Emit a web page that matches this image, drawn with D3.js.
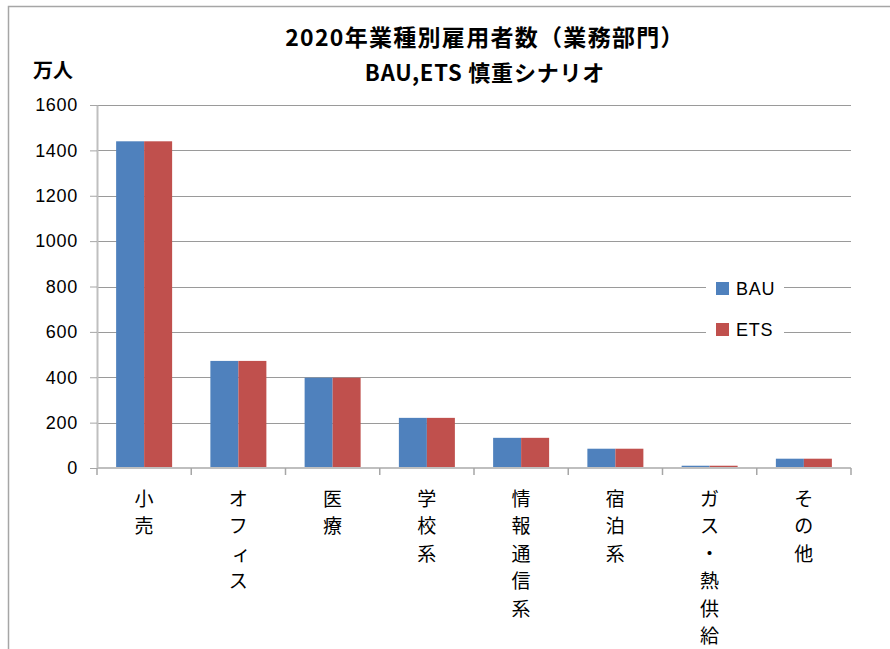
<!DOCTYPE html>
<html>
<head>
<meta charset="utf-8">
<script src="https://cdn.jsdelivr.net/npm/d3@7"></script>
<style>
  html, body { margin: 0; padding: 0; background: #fff; }
  svg { display: block; }
</style>
</head>
<body>
<div id="chart"></div>
<script>
// 2020年 業種別雇用者数（業務部門）— BAU / ETS 慎重シナリオ, 単位: 万人
const categories = ["小売", "オフィス", "医療", "学校系", "情報通信系", "宿泊系", "ガス・熱供給", "その他"];
const bauValues = [1440, 472, 398, 221, 133, 85, 10, 41];
const etsValues = [1440, 472, 398, 221, 133, 85, 10, 41];
const seriesNames = ["BAU", "ETS"];
const yTicks = [0, 200, 400, 600, 800, 1000, 1200, 1400, 1600];

const W = 890, H = 649;
const colors = { BAU: "#4f81bd", ETS: "#c0504d" };
const plot = { left: 97, right: 851, top: 105, bottom: 468 };

const svg = d3.select("#chart").append("svg")
  .attr("width", W).attr("height", H);

// chart area frame
svg.append("rect")
  .attr("x", 8.5).attr("y", 6.5)
  .attr("width", W + 20).attr("height", H + 20)
  .attr("fill", "#fff").attr("stroke", "#a6a6a6").attr("stroke-width", 1.5);

const x = d3.scaleBand().domain(categories).range([plot.left, plot.right]).padding(0);
const groupWidth = 56;
const x1 = d3.scaleBand().domain(seriesNames)
  .range([(x.bandwidth() - groupWidth) / 2, (x.bandwidth() + groupWidth) / 2]).padding(0);
const y = d3.scaleLinear().domain([0, 1600]).range([plot.bottom, plot.top]);

// horizontal gridlines
svg.append("g").selectAll("line")
  .data(yTicks.filter(d => d > 0))
  .join("line")
  .attr("x1", plot.left).attr("x2", plot.right)
  .attr("y1", d => Math.round(y(d)) + 0.5).attr("y2", d => Math.round(y(d)) + 0.5)
  .attr("stroke", "#9a9a9a").attr("stroke-width", 1);

// bars
const rows = categories.map((c, i) => ({ cat: c, values: { BAU: bauValues[i], ETS: etsValues[i] } }));
const groups = svg.append("g").selectAll("g")
  .data(rows).join("g")
  .attr("transform", d => `translate(${x(d.cat)},0)`);
groups.selectAll("rect")
  .data(d => seriesNames.map(s => ({ s, v: d.values[s] })))
  .join("rect")
  .attr("x", d => x1(d.s))
  .attr("width", x1.bandwidth())
  .attr("y", d => y(d.v))
  .attr("height", d => y(0) - y(d.v))
  .attr("fill", d => colors[d.s]);

// y axis
const yAxis = d3.axisLeft(y).tickValues(yTicks).tickFormat(d3.format("d"))
  .tickSize(7).tickPadding(12).tickSizeOuter(0);
const gy = svg.append("g").attr("transform", `translate(${plot.left},0)`).call(yAxis);
gy.select(".domain").attr("stroke", "#bfbfbf").attr("stroke-width", 2);
gy.selectAll(".tick line").attr("stroke", "#a6a6a6");
gy.selectAll(".tick text")
  .attr("font-family", "'Liberation Sans', Arial, sans-serif")
  .attr("font-size", 18).attr("letter-spacing", 0.7).attr("fill", "#000");

// x axis baseline and category boundary ticks
svg.append("line")
  .attr("x1", plot.left).attr("x2", plot.right)
  .attr("y1", y(0)).attr("y2", y(0))
  .attr("stroke", "#bfbfbf").attr("stroke-width", 2);
const bounds = categories.map(c => x(c)).concat([plot.right]);
svg.append("g").selectAll("line")
  .data(bounds).join("line")
  .attr("x1", d => d).attr("x2", d => d)
  .attr("y1", y(0)).attr("y2", y(0) + 7)
  .attr("stroke", "#a6a6a6").attr("stroke-width", 1.5);

// category labels, stacked vertically one character per line
const labelG = svg.append("g")
  .attr("font-family", "'Noto Sans CJK JP', sans-serif")
  .attr("font-size", 19).attr("fill", "#000").attr("text-anchor", "middle");
categories.forEach(c => {
  const cx = x(c) + x.bandwidth() / 2;
  Array.from(c).forEach((ch, j) => {
    labelG.append("text")
      .attr("x", ch === "ィ" ? cx + 3 : cx)
      .attr("y", 497 + j * 27.5)
      .attr("dominant-baseline", "central")
      .text(ch);
  });
});

// titles
const titleFont = "'Noto Sans CJK JP', sans-serif";
svg.append("text")
  .attr("x", 485).attr("y", 36)
  .attr("text-anchor", "middle").attr("dominant-baseline", "central")
  .attr("font-family", titleFont).attr("font-weight", "bold").attr("font-size", 23)
  .attr("letter-spacing", 1.3)
  .text("2020年業種別雇用者数（業務部門）");
svg.append("text")
  .attr("x", 485).attr("y", 71)
  .attr("text-anchor", "middle").attr("dominant-baseline", "central")
  .attr("font-family", titleFont).attr("font-weight", "bold").attr("font-size", 22)
  .attr("letter-spacing", 0.8)
  .text("BAU,ETS 慎重シナリオ");
svg.append("text")
  .attr("x", 33).attr("y", 69)
  .attr("dominant-baseline", "central")
  .attr("font-family", titleFont).attr("font-weight", "bold").attr("font-size", 20)
  .text("万人");

// legend
const legend = svg.append("g");
legend.append("rect")
  .attr("x", 706).attr("y", 274).attr("width", 78).attr("height", 70)
  .attr("fill", "#fff");
seriesNames.forEach((s, i) => {
  const cy = 288.5 + i * 41;
  legend.append("rect")
    .attr("x", 716).attr("y", cy - 6.5).attr("width", 13).attr("height", 13)
    .attr("fill", colors[s]);
  legend.append("text")
    .attr("x", 736).attr("y", cy).attr("dominant-baseline", "central")
    .attr("font-family", "'Liberation Sans', Arial, sans-serif")
    .attr("font-size", 18).attr("letter-spacing", 0.8).attr("fill", "#000")
    .text(s);
});
</script>
</body>
</html>
